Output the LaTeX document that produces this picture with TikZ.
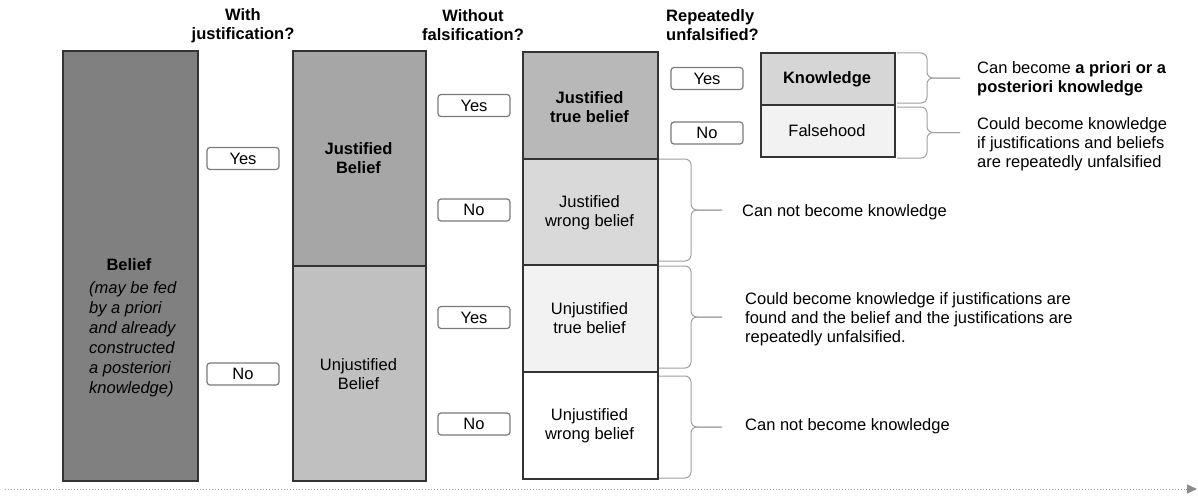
\documentclass[tikz,border=0pt]{standalone}
\usepackage{fontspec}
\setmainfont{Liberation Sans}
\usetikzlibrary{arrows.meta}
\definecolor{bdr}{HTML}{333333}
\definecolor{ansb}{HTML}{7A7A7A}
\definecolor{brc}{HTML}{A0A0A0}
\definecolor{arr}{HTML}{8C8C8C}
\definecolor{cBelief}{HTML}{808080}
\definecolor{cJB}{HTML}{A6A6A6}
\definecolor{cUB}{HTML}{C0C0C0}
\definecolor{cJTB}{HTML}{B8B8B8}
\definecolor{cJWB}{HTML}{D9D9D9}
\definecolor{cUTB}{HTML}{F2F2F2}
\definecolor{cKn}{HTML}{D6D6D6}
\definecolor{cFa}{HTML}{F2F2F2}
\tikzset{
  cell/.style={draw=bdr, line width=2.2pt, inner sep=0pt, anchor=north west},
  ans/.style={draw=ansb, line width=1.2pt, rounded corners=3pt, fill=white,
    minimum width=72pt, minimum height=22pt, inner sep=0pt},
  lbl/.style={align=center, inner sep=0pt},
  note/.style={align=left, anchor=west, inner sep=0pt},
  brace/.style={draw=brc, line width=1pt, rounded corners=6pt},
  hdr/.style={font=\fontsize{16.5}{19}\selectfont\bfseries, inner sep=0pt}
}
\newcommand{\mybrace}[5]{%
  \pgfmathsetmacro\bmid{(#4+#5)/2}%
  \draw[brace] (#1,#4) -- (#2,#4) -- (#2,\bmid) -- (#3,\bmid);%
  \draw[brace] (#1,#5) -- (#2,#5) -- (#2,\bmid) -- (#3,\bmid);%
}
\begin{document}
\begin{tikzpicture}[x=1pt,y=-1pt,font=\fontsize{16.5}{19}\selectfont]
\useasboundingbox (0,0) rectangle (1198,495);

% headers
\node[hdr, align=center] (h1) at (243,25.5) {With\\justification?};
\node[hdr, align=center] (h2) at (473,25.5) {Without\\falsification?};
\node[hdr, align=left, anchor=west] (h3) at (666,25.5) {Repeatedly\\unfalsified?};

% column 1
\node[cell, fill=cBelief, minimum width=135pt, minimum height=430pt] (belief) at (62,50) {};
\node[lbl, font=\fontsize{16.5}{19}\selectfont\bfseries] (beliefT) at (129,265) {Belief};
\node[align=left, anchor=north west, inner sep=0pt, font=\fontsize{16.5}{20}\selectfont\itshape] (beliefI) at (89,281)
  {(may be fed\\by a priori\\and already\\constructed\\a posteriori\\knowledge)};

% column 2
\node[cell, fill=cJB, minimum width=133pt, minimum height=215pt] (jb) at (292,50) {};
\node[cell, fill=cUB, minimum width=133pt, minimum height=215pt] (ub) at (292,265) {};
\node[lbl, font=\fontsize{16.5}{19}\selectfont\bfseries] (jbT) at (358.5,158) {Justified\\Belief};
\node[lbl] (ubT) at (358.5,374) {Unjustified\\Belief};

% column 3
\node[cell, fill=cJTB, minimum width=135pt, minimum height=107pt] (jtb) at (522,51) {};
\node[cell, fill=cJWB, minimum width=135pt, minimum height=106pt] (jwb) at (522,158) {};
\node[cell, fill=cUTB, minimum width=135pt, minimum height=107pt] (utb) at (522,264) {};
\node[cell, fill=white, minimum width=135pt, minimum height=107pt] (uwb) at (522,371) {};
\node[lbl, font=\fontsize{16.5}{19}\selectfont\bfseries] (jtbT) at (589.5,107) {Justified\\true belief};
\node[lbl] (jwbT) at (589.5,213) {Justified\\wrong belief};
\node[lbl] (utbT) at (589.5,318.5) {Unjustified\\true belief};
\node[lbl] (uwbT) at (589.5,425.5) {Unjustified\\wrong belief};

% column 4
\node[cell, fill=cKn, minimum width=134pt, minimum height=52pt] (kn) at (760,52) {};
\node[cell, fill=cFa, minimum width=134pt, minimum height=52pt] (fa) at (760,104) {};
\node[lbl, font=\fontsize{16.5}{19}\selectfont\bfseries] (knT) at (827,79) {Knowledge};
\node[lbl] (faT) at (827,131) {Falsehood};

% answer boxes
\node[ans] (y1) at (243,158.5) {Yes};
\node[ans] (n1) at (243,374) {No};
\node[ans] (y2) at (474,105.5) {Yes};
\node[ans] (n2) at (474,210) {No};
\node[ans] (y3) at (474,317.5) {Yes};
\node[ans] (n3) at (474,424) {No};
\node[ans] (y4) at (707,78.5) {Yes};
\node[ans] (n4) at (707,133) {No};

% braces
\mybrace{897}{927}{960}{53}{103}
\mybrace{897}{927}{960}{107}{158}
\mybrace{659}{691}{722}{159}{261}
\mybrace{659}{691}{722}{266}{368}
\mybrace{659}{691}{722}{376}{478}

% notes
\node[note] (t1) at (977,79) {Can become \textbf{a priori or a}\\\textbf{posteriori knowledge}};
\node[note] (t2) at (977,144) {Could become knowledge\\if justifications and beliefs\\are repeatedly unfalsified};
\node[note] (t3) at (742,212) {Can not become knowledge};
\node[note] (t4) at (745,319) {Could become knowledge if justifications are\\found and the belief and the justifications are\\repeatedly unfalsified.};
\node[note] (t5) at (745,426) {Can not become knowledge};

% timeline arrow
\coordinate (ls) at (5,489);
\coordinate (lm) at (1186,489);
\coordinate (le) at (1197,489);
\draw[brc, line width=1pt, dotted] (ls) -- (lm);
\draw[arr, line width=1pt, -{Triangle[length=10pt,width=9pt]}] (lm) -- (le);
\end{tikzpicture}
\end{document}
